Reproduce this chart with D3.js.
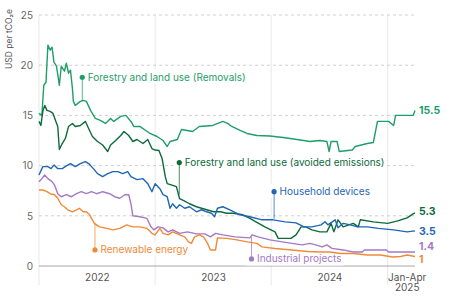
<!DOCTYPE html>
<html>
<head>
<meta charset="UTF-8">
<title>Carbon credit prices by project type</title>
<script src="https://d3js.org/d3.v7.min.js"></script>
<style>
  body { margin: 0; background: #fff; }
  svg text { font-family: Inter, "Open Sans", sans-serif; }
</style>
</head>
<body>
<svg width="476" height="297"></svg>
<script>
// price series, USD per tCO2e
const removals = [
  ["2022-01-01",15.2],["2022-01-10",15.0],["2022-01-16",18.0],["2022-01-23",18.3],["2022-01-29",22.0],
  ["2022-02-05",21.5],["2022-02-11",21.8],["2022-02-17",20.3],["2022-02-25",19.9],["2022-03-06",18.0],
  ["2022-03-12",19.9],["2022-03-22",19.4],["2022-03-28",20.2],["2022-04-04",19.2],["2022-04-10",19.5],
  ["2022-04-16",17.7],["2022-04-19",16.4],["2022-04-25",16.0],["2022-05-11",16.4],["2022-05-20",16.5],
  ["2022-05-30",16.4],["2022-06-12",15.5],["2022-06-27",14.7],["2022-07-13",14.5],["2022-07-29",14.2],
  ["2022-08-14",14.7],["2022-08-24",14.4],["2022-09-15",14.9],["2022-10-01",15.0],["2022-10-17",14.4],
  ["2022-10-26",13.9],["2022-11-14",13.9],["2022-12-16",13.2],["2023-01-07",12.9],["2023-01-26",12.5],
  ["2023-02-08",11.9],["2023-02-17",12.4],["2023-03-12",12.6],["2023-03-25",13.6],["2023-04-29",13.4],
  ["2023-05-20",13.9],["2023-07-01",14.0],["2023-08-02",14.4],["2023-08-17",14.2],["2023-08-30",13.9],
  ["2023-09-25",13.5],["2023-10-17",13.2],["2023-11-17",13.0],["2023-12-28",12.95],["2024-02-08",12.8],
  ["2024-03-22",12.6],["2024-05-02",12.4],["2024-06-02",12.5],["2024-06-24",12.4],["2024-07-01",11.4],
  ["2024-07-07",12.4],["2024-07-26",12.4],["2024-08-02",11.4],["2024-09-12",11.55],["2024-09-21",11.9],
  ["2024-10-29",12.2],["2024-11-17",12.3],["2024-11-30",14.4],["2025-01-04",14.4],["2025-01-20",14.0],
  ["2025-01-26",15.0],["2025-03-22",15.0],["2025-03-28",15.5]
];
const avoided = [
  ["2022-01-01",14.4],["2022-01-07",14.0],["2022-01-13",15.4],["2022-01-19",16.0],["2022-01-26",15.5],
  ["2022-02-05",15.4],["2022-02-14",15.2],["2022-02-23",14.4],["2022-03-01",13.9],["2022-03-06",11.6],
  ["2022-03-15",12.2],["2022-03-25",12.7],["2022-04-04",13.9],["2022-04-16",14.2],["2022-04-25",13.9],
  ["2022-05-11",14.0],["2022-05-27",14.4],["2022-06-06",13.7],["2022-06-18",12.9],["2022-07-04",12.4],
  ["2022-07-20",12.05],["2022-08-05",11.4],["2022-08-14",12.05],["2022-08-30",12.5],["2022-09-15",13.0],
  ["2022-09-25",13.4],["2022-10-10",13.0],["2022-10-23",12.4],["2022-11-05",12.6],["2022-11-24",12.2],
  ["2022-12-09",12.6],["2022-12-22",11.7],["2023-01-01",11.55],["2023-01-13",11.5],["2023-01-23",10.7],
  ["2023-02-02",8.9],["2023-02-08",8.2],["2023-02-23",8.05],["2023-03-09",7.9],["2023-03-19",6.7],
  ["2023-04-01",6.5],["2023-04-19",6.2],["2023-05-11",5.9],["2023-05-27",5.75],["2023-06-12",5.6],
  ["2023-07-04",5.4],["2023-07-26",5.4],["2023-08-14",5.25],["2023-09-03",5.25],["2023-10-04",5.1],
  ["2023-10-26",4.75],["2023-11-14",4.4],["2023-12-12",3.9],["2024-01-13",3.4],["2024-01-23",2.75],
  ["2024-03-03",2.75],["2024-03-19",3.1],["2024-04-04",3.9],["2024-04-19",3.9],["2024-05-08",3.6],
  ["2024-06-02",3.4],["2024-06-24",3.4],["2024-07-07",4.25],["2024-07-16",3.4],["2024-07-29",4.6],
  ["2024-08-14",3.9],["2024-09-15",4.25],["2024-10-01",3.9],["2024-10-07",4.6],["2024-11-17",4.4],
  ["2025-01-01",4.25],["2025-02-02",4.5],["2025-03-03",4.8],["2025-03-22",5.2],["2025-03-28",5.3]
];
const household = [
  ["2022-01-01",9.06],["2022-01-13",9.9],["2022-01-29",9.9],["2022-02-08",9.7],["2022-02-17",10.05],
  ["2022-03-01",9.7],["2022-03-15",9.7],["2022-04-01",10.05],["2022-04-10",10.2],["2022-04-25",9.9],
  ["2022-05-11",10.2],["2022-05-27",10.4],["2022-06-06",10.2],["2022-06-21",9.7],["2022-07-04",9.2],
  ["2022-07-20",8.9],["2022-08-05",9.2],["2022-08-21",9.4],["2022-09-06",9.4],["2022-09-21",9.2],
  ["2022-10-07",9.4],["2022-10-17",8.9],["2022-11-05",8.6],["2022-11-24",8.7],["2022-12-09",8.2],
  ["2022-12-22",7.4],["2023-01-01",8.2],["2023-01-16",7.7],["2023-01-26",7.1],["2023-02-08",6.9],
  ["2023-02-17",5.75],["2023-02-25",6.2],["2023-03-09",5.75],["2023-03-19",6.1],["2023-04-04",5.75],
  ["2023-04-19",5.9],["2023-05-11",5.4],["2023-05-27",5.6],["2023-06-12",5.4],["2023-06-27",5.25],
  ["2023-07-07",4.9],["2023-07-16",5.75],["2023-08-02",5.9],["2023-08-24",5.6],["2023-09-25",5.1],
  ["2023-10-26",4.9],["2023-12-03",4.6],["2024-01-07",4.6],["2024-02-14",4.4],["2024-03-19",4.3],
  ["2024-04-13",3.9],["2024-05-08",3.9],["2024-06-06",4.1],["2024-06-18",4.4],["2024-06-27",4.1],
  ["2024-07-20",4.6],["2024-07-29",3.8],["2024-08-14",4.25],["2024-09-06",4.1],["2024-09-28",3.9],
  ["2024-10-29",3.9],["2024-12-03",3.75],["2025-01-20",3.6],["2025-03-03",3.4],["2025-03-28",3.5]
];
const industrial = [
  ["2022-01-01",8.4],["2022-01-10",8.7],["2022-01-19",9.06],["2022-01-29",8.7],["2022-02-11",8.4],
  ["2022-02-19",8.05],["2022-03-01",7.2],["2022-03-12",6.9],["2022-03-28",7.1],["2022-04-13",6.9],
  ["2022-04-29",7.2],["2022-05-14",7.4],["2022-05-30",7.2],["2022-06-15",7.4],["2022-07-01",7.2],
  ["2022-07-20",7.4],["2022-08-11",7.2],["2022-08-27",6.9],["2022-09-12",6.75],["2022-09-28",7.1],
  ["2022-10-10",7.1],["2022-10-17",6.2],["2022-10-23",5.0],["2022-11-14",4.9],["2022-12-06",4.75],
  ["2022-12-19",3.9],["2022-12-28",3.6],["2023-01-10",3.9],["2023-01-26",3.8],["2023-02-11",3.4],
  ["2023-02-25",3.6],["2023-03-19",3.25],["2023-04-13",3.4],["2023-05-11",3.2],["2023-06-06",3.2],
  ["2023-06-24",2.9],["2023-07-10",3.25],["2023-08-02",3.1],["2023-09-09",2.9],["2023-10-26",2.8],
  ["2023-11-02",3.1],["2023-11-21",2.9],["2023-12-28",2.6],["2024-02-05",2.4],["2024-03-06",2.25],
  ["2024-04-07",2.1],["2024-05-02",2.25],["2024-05-20",2.1],["2024-06-09",1.9],["2024-06-24",2.1],
  ["2024-07-10",1.75],["2024-08-14",1.6],["2024-09-15",1.4],["2024-10-13",1.4],["2024-10-20",1.6],
  ["2024-12-28",1.6],["2025-01-04",1.4],["2025-03-28",1.4]
];
const renewable = [
  ["2022-01-01",7.57],["2022-01-13",7.57],["2022-01-26",7.4],["2022-02-05",7.2],["2022-02-19",7.1],
  ["2022-03-01",6.75],["2022-03-12",6.1],["2022-03-22",5.9],["2022-04-01",5.6],["2022-04-16",5.4],
  ["2022-04-29",5.6],["2022-05-08",5.75],["2022-05-20",5.4],["2022-05-30",5.4],["2022-06-09",5.1],
  ["2022-06-15",4.75],["2022-06-24",4.25],["2022-07-10",3.9],["2022-08-02",3.75],["2022-08-21",3.6],
  ["2022-09-12",3.75],["2022-10-04",4.1],["2022-10-23",3.9],["2022-11-14",3.9],["2022-12-06",3.75],
  ["2022-12-22",3.25],["2023-01-01",3.1],["2023-01-16",3.75],["2023-01-26",3.25],["2023-02-11",3.1],
  ["2023-02-25",3.4],["2023-03-19",3.1],["2023-04-04",2.9],["2023-04-16",2.4],["2023-04-25",2.25],
  ["2023-05-05",2.9],["2023-05-20",3.1],["2023-06-02",2.9],["2023-06-15",2.25],["2023-06-24",1.6],
  ["2023-07-10",1.6],["2023-07-16",2.8],["2023-08-14",2.75],["2023-09-15",2.6],["2023-10-17",2.4],
  ["2023-11-17",2.25],["2023-12-03",1.9],["2024-01-13",1.75],["2024-03-06",1.6],["2024-04-25",1.45],
  ["2024-06-02",1.4],["2024-07-04",1.4],["2024-08-05",1.25],["2024-09-15",1.25],["2024-10-29",1.1],
  ["2024-12-09",1.1],["2025-01-17",0.9],["2025-02-11",0.95],["2025-03-03",1.1],["2025-03-28",0.95]
];

const seriesData = [removals, avoided, household, industrial, renewable];
const seriesNames = ["Forestry and land use (Removals)", "Forestry and land use (avoided emissions)",
                     "Household devices", "Industrial projects", "Renewable energy"];
const seriesColors = ["#1f9e69", "#0d6a3a", "#1f66b6", "#a27ac6", "#f18a38"];
const endLabels = ["15.5", "5.3", "3.5", "1.4", "1"];
const endLabelNudge = [0, -1, 0, -6, 2.5];

// callouts: which series, date, value of the dot, value where the leader meets the line
const calloutSeries = [0, 1, 2, 4, 3];
const calloutDates = ["2022-05-17", "2023-03-18", "2024-01-10", "2022-06-26", "2023-10-31"];
const calloutValues = [18.8, 10.3, 7.4, 1.6, 0.7];
const calloutLineValues = [16.4, 7.1, 4.7, 4.2, 2.9];

const yTicks = [0, 5, 10, 15, 20, 25];
const yearStarts = ["2022-01-01", "2023-01-01", "2024-01-01", "2025-01-01"];
const yearLabelDates = ["2022-07-02", "2023-07-02", "2024-07-02", "2025-03-02"];
const yearLabels = [["2022"], ["2023"], ["2024"], ["Jan-Apr", "2025"]];

const parse = d3.timeParse("%Y-%m-%d");

const svg = d3.select("svg"),
    width = +svg.attr("width"),
    height = +svg.attr("height");

const plotLeft = 39, plotRight = 415, plotTop = 15, plotBottom = 266;

const x = d3.scaleTime()
    .domain([parse("2022-01-01"), parse("2025-03-28")])
    .range([plotLeft, plotRight]);

const y = d3.scaleLinear()
    .domain([0, 25])
    .range([plotBottom, plotTop]);

// vertical year lines
svg.append("g").selectAll("line")
  .data(yearStarts)
  .enter().append("line")
    .attr("x1", d => x(parse(d))).attr("x2", d => x(parse(d)))
    .attr("y1", plotTop).attr("y2", 285)
    .attr("stroke", "#ececec").attr("stroke-width", 1.2);

// horizontal dashed grid
svg.append("g").selectAll("line")
  .data(yTicks.filter(d => d > 0))
  .enter().append("line")
    .attr("x1", plotLeft).attr("x2", plotRight)
    .attr("y1", d => y(d)).attr("y2", d => y(d))
    .attr("stroke", "#d0d0d0").attr("stroke-dasharray", "3,3");

// baseline
svg.append("line")
    .attr("x1", plotLeft).attr("x2", plotRight)
    .attr("y1", y(0)).attr("y2", y(0))
    .attr("stroke", "#a8a8a8").attr("stroke-width", 1);

// y axis labels
const yAxis = svg.append("g")
    .attr("transform", "translate(" + plotLeft + ",0)")
    .call(d3.axisLeft(y).tickValues(yTicks).tickSize(0).tickPadding(6));
yAxis.select(".domain").remove();
yAxis.selectAll("text").attr("fill", "#666").style("font-size", "10px");

svg.append("text")
    .attr("transform", "translate(12," + 39 + ") rotate(-90)")
    .attr("text-anchor", "middle")
    .attr("fill", "#555")
    .style("font-size", "8.5px")
    .text("USD per tCO₂e");

// x axis labels
const xAxis = svg.append("g")
    .attr("transform", "translate(0," + 271 + ")")
    .call(d3.axisBottom(x).tickValues(yearLabelDates.map(parse)).tickSize(0).tickPadding(0).tickFormat(""));
xAxis.select(".domain").remove();
xAxis.selectAll(".tick text")
    .attr("fill", "#555")
    .style("font-size", "10px")
    .each(function(d, i) {
      const t = d3.select(this).attr("dy", null).attr("y", 0);
      yearLabels[i].forEach((s, k) => {
        t.append("tspan").attr("x", 0).attr("y", 9.5 + k * 10.5).text(s);
      });
    });

// label backgrounds hide the grid behind callout text
const bgLayer = svg.append("g");

const line = d3.line()
    .x(d => x(parse(d[0])))
    .y(d => y(d[1]));

svg.append("g").selectAll("path")
  .data(seriesData)
  .enter().append("path")
    .attr("d", line)
    .attr("fill", "none")
    .attr("stroke", (d, i) => seriesColors[i])
    .attr("stroke-width", 1.4)
    .attr("stroke-linejoin", "round");

// end labels
svg.append("g").selectAll("text")
  .data(seriesData)
  .enter().append("text")
    .attr("x", d => x(parse(d[d.length - 1][0])) + 4)
    .attr("y", (d, i) => y(d[d.length - 1][1]) + endLabelNudge[i])
    .attr("dy", "0.35em")
    .attr("fill", (d, i) => seriesColors[i])
    .style("font-size", "10.5px")
    .style("font-weight", "bold")
    .text((d, i) => endLabels[i]);

// callouts
const callouts = calloutDates.map((d, i) => ({
  date: parse(d), v: calloutValues[i], lv: calloutLineValues[i],
  color: seriesColors[calloutSeries[i]], name: seriesNames[calloutSeries[i]]
}));

const cg = svg.append("g").selectAll("g")
  .data(callouts)
  .enter().append("g");

cg.append("line")
    .attr("x1", d => x(d.date)).attr("x2", d => x(d.date))
    .attr("y1", d => y(d.v)).attr("y2", d => y(d.lv))
    .attr("stroke", d => d.color).attr("stroke-opacity", 0.75).attr("stroke-width", 1);

cg.append("circle")
    .attr("cx", d => x(d.date)).attr("cy", d => y(d.v))
    .attr("r", 2.6)
    .attr("fill", d => d.color);

cg.append("text")
    .attr("x", d => x(d.date) + 5.5)
    .attr("y", d => y(d.v))
    .attr("dy", "0.35em")
    .attr("fill", d => d.color)
    .style("font-size", "10px")
    .text(d => d.name)
    .each(function(d) {
      const b = this.getBBox();
      bgLayer.append("rect")
        .attr("x", x(d.date) - 6).attr("y", b.y - 1)
        .attr("width", b.x + b.width - x(d.date) + 8).attr("height", b.height + 2)
        .attr("fill", "#fff");
    });
</script>
</body>
</html>
